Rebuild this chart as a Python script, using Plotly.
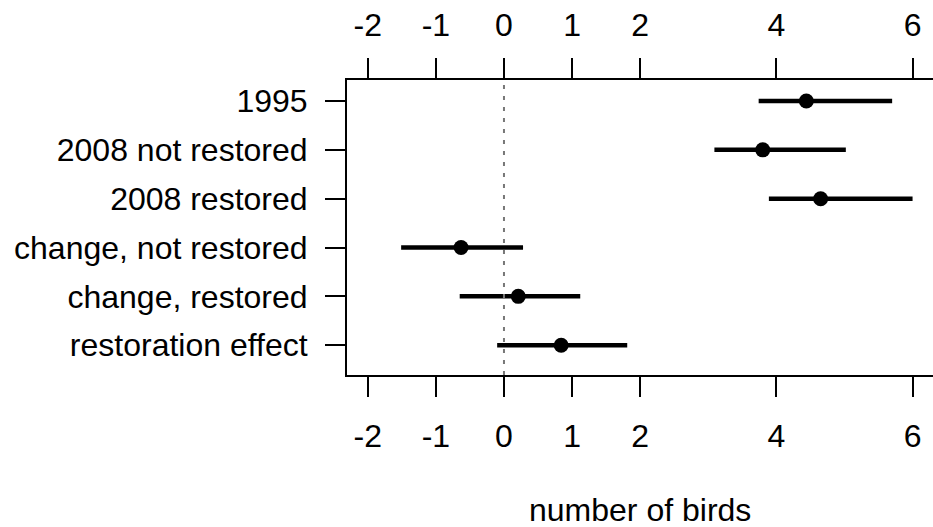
import plotly.graph_objects as go

categories = ["1995", "2008 not restored", "2008 restored",
              "change, not restored", "change, restored", "restoration effect"]
estimate = [4.44, 3.80, 4.65, -0.63, 0.21, 0.84]
lower = [3.74, 3.09, 3.89, -1.51, -0.65, -0.10]
upper = [5.70, 5.02, 6.00, 0.28, 1.12, 1.81]
x_ticks = [-2, -1, 0, 1, 2, 4, 6]
x_title = "number of birds"

rows = list(range(1, len(categories) + 1))
FONT = dict(family="Liberation Sans, Arial, sans-serif", size=32, color="black")

fig = go.Figure()
fig.add_trace(go.Scatter(
    x=estimate, y=rows, mode="markers",
    marker=dict(size=15, color="black"),
    error_x=dict(type="data", symmetric=False,
                 array=[u - e for u, e in zip(upper, estimate)],
                 arrayminus=[e - l for e, l in zip(estimate, lower)],
                 color="black", thickness=4.5, width=0),
    showlegend=False, hoverinfo="skip"))
fig.add_trace(go.Scatter(x=[x_ticks[0]], y=[rows[0]], xaxis="x2", mode="markers",
                         marker=dict(opacity=0), showlegend=False, hoverinfo="skip"))

xr = [-2.305, 6.30]
axis_common = dict(range=xr, tickmode="array", tickvals=x_ticks,
                   ticktext=[str(t) for t in x_ticks], ticks="outside",
                   ticklen=20, tickwidth=2, tickcolor="black", showgrid=False,
                   zeroline=False, showline=True, linewidth=2, linecolor="black",
                   tickfont=FONT)
fig.update_layout(
    width=933, height=527, plot_bgcolor="white", paper_bgcolor="white",
    margin=dict(l=347, r=0, t=80, b=152),
    font=FONT,
    xaxis=dict(**axis_common, side="bottom", ticklabelstandoff=12),
    xaxis2=dict(**axis_common, side="top", overlaying="x", ticklabelstandoff=9),
    yaxis=dict(range=[6.61, 0.57], tickmode="array", tickvals=rows, ticktext=categories,
               ticks="outside", ticklen=20, tickwidth=2, tickcolor="black",
               showgrid=False, zeroline=False, showline=True, linewidth=2,
               linecolor="black", tickfont=FONT, ticklabelstandoff=11),
    shapes=[dict(type="line", xref="x", yref="paper", x0=0, x1=0, y0=0, y1=1,
                 line=dict(color="#777777", width=2, dash="4px,7px"))],
    annotations=[dict(text=x_title, xref="paper", yref="paper", x=0.5, y=-0.4576,
                      xanchor="center", yanchor="middle", showarrow=False, font=FONT)],
)
fig.write_html("out.html")
